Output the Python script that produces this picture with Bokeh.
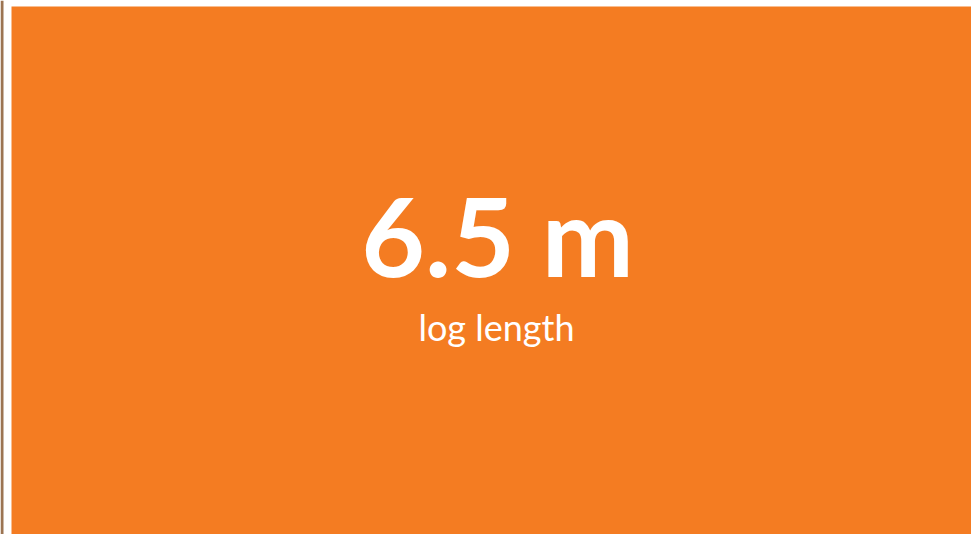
from bokeh.plotting import figure
from bokeh.models import Range1d
from bokeh.core.properties import value
from bokeh.embed import file_html
from bokeh.resources import INLINE

kpi_value = ["6.5 m"]
kpi_label = ["log length"]

ORANGE = "#F47C22"

p = figure(width=971, height=534, output_backend="svg", toolbar_location=None,
           x_range=Range1d(0, 971), y_range=Range1d(534, 0),
           min_border_left=0, min_border_right=0, min_border_top=0, min_border_bottom=0)
p.axis.visible = False
p.grid.visible = False
p.outline_line_color = None
p.background_fill_color = "white"
p.border_fill_color = "white"

# tile background and sliver of neighbouring image at the left edge
p.quad(left=[11], right=[971], top=[6], bottom=[534], fill_color=ORANGE, line_color=None)
p.quad(left=[0], right=[3], top=[0], bottom=[534], fill_color="#9C7452", line_color=None)

p.text(x=[497], y=[233], text=kpi_value, text_font=value("Lato"), text_font_style="bold",
       text_font_size="110px", text_color="white", text_align="center", text_baseline="alphabetic")
p.text(x=[496], y=[326], text=kpi_label, text_font=value("Lato"), text_font_style="normal",
       text_font_size="36px", text_color="white", text_align="center", text_baseline="alphabetic")

open("out.html", "w").write(file_html(p, INLINE))
